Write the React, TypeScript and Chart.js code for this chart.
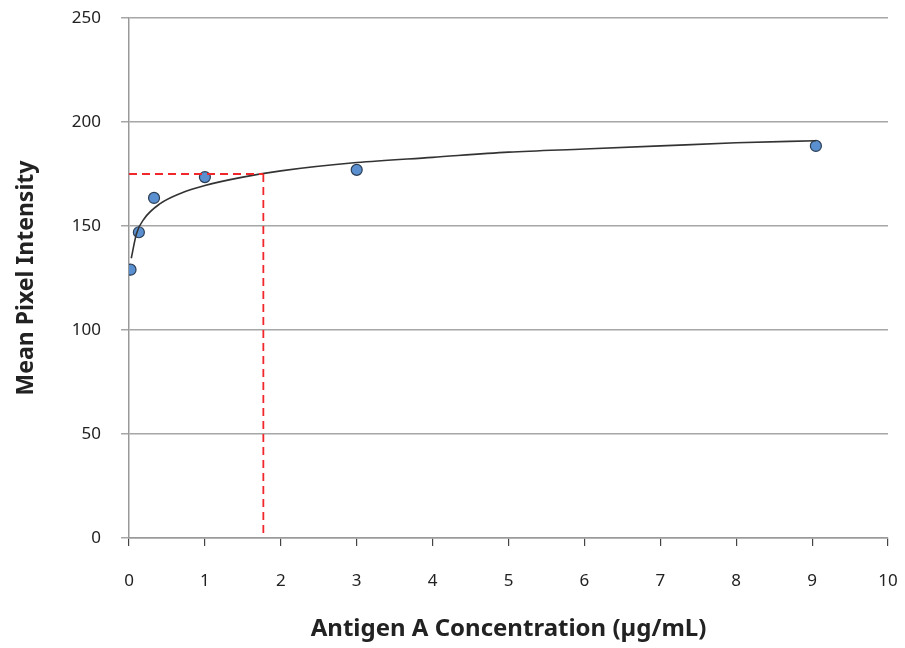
import React, { useEffect, useRef } from "react";
import { Chart, registerables } from "chart.js";

Chart.register(...registerables);

// Measured data points
const concX = [0.02, 0.13, 0.33, 1.0, 3.0, 9.05];
const intensityY = [129, 147, 163.5, 173.5, 177, 188.5];

// Fitted trend curve
const curveX = [0.03, 0.1, 0.2, 0.4, 0.7, 1.0, 1.5, 2.0, 3.0, 4.0, 5.0, 6.0, 7.0, 8.0, 9.05];
const curveY = [134.5, 146.5, 153.5, 160.5, 166, 169.5, 173.5, 176.5, 180.5, 183, 185.5, 187, 188.5, 190, 191];

// Read-off reference (red dashed)
const refX = 1.77;
const refY = 175;

const xTitle = "Antigen A Concentration (µg/mL)";
const yTitle = "Mean Pixel Intensity";

const FONT = "'Noto Sans', sans-serif";

export default function App() {
  const ref = useRef<HTMLCanvasElement | null>(null);
  useEffect(() => {
    document.body.style.margin = "0";
    const ctx = ref.current!;
    const chart = new Chart(ctx, {
      type: "scatter",
      data: {
        datasets: [
          {
            data: [
              { x: 0, y: refY },
              { x: refX, y: refY },
            ],
            showLine: true,
            borderColor: "#f0282c",
            borderWidth: 1.8,
            borderDash: [8, 5],
            pointRadius: 0,
          },
          {
            data: [
              { x: refX, y: refY },
              { x: refX, y: 0 },
            ],
            showLine: true,
            borderColor: "#f0282c",
            borderWidth: 1.8,
            borderDash: [8, 5],
            pointRadius: 0,
          },
          {
            data: curveX.map((x, i) => ({ x, y: curveY[i] })),
            showLine: true,
            borderColor: "#333333",
            borderWidth: 1.6,
            pointRadius: 0,
            cubicInterpolationMode: "monotone",
          },
          {
            data: concX.map((x, i) => ({ x, y: intensityY[i] })),
            showLine: false,
            backgroundColor: "#5a90d0",
            borderColor: "#2c3e55",
            borderWidth: 1.2,
            pointRadius: 5.5,
          },
        ],
      },
      options: {
        responsive: false,
        animation: false,
        layout: { padding: { top: 18, right: 17, left: 0, bottom: 0 } },
        plugins: { legend: { display: false }, tooltip: { enabled: false } },
        scales: {
          x: {
            type: "linear",
            min: 0,
            max: 10,
            afterFit: (s: any) => {
              s.height = 110;
              s.paddingLeft = 0;
              s.paddingRight = 0;
            },
            ticks: {
              stepSize: 1,
              padding: 25,
              color: "#222",
              font: { family: FONT, size: 17 },
            },
            grid: {
              drawOnChartArea: false,
              drawTicks: true,
              tickLength: 8,
              color: "#444",
              lineWidth: 1.2,
            },
            border: { display: true, color: "#999", width: 1.5 },
            title: {
              display: true,
              text: xTitle,
              color: "#222",
              font: { family: FONT, size: 24, weight: "bold" },
              padding: { top: 11 },
            },
          },
          y: {
            min: 0,
            max: 250,
            afterFit: (s: any) => {
              s.width = 129;
              s.paddingTop = 0;
              s.paddingBottom = 0;
            },
            ticks: {
              stepSize: 50,
              padding: 20,
              color: "#222",
              font: { family: FONT, size: 17 },
            },
            grid: {
              color: "#a6a6a6",
              lineWidth: 1.5,
              tickLength: 8,
            },
            border: { display: true, color: "#999", width: 1.5 },
            title: {
              display: true,
              text: yTitle,
              color: "#222",
              font: { family: FONT, size: 23, weight: "bold" },
              padding: { top: 13, bottom: 22 },
            },
          },
        },
      },
    });
    return () => chart.destroy();
  }, []);
  return (
    <div style={{ width: 905, height: 648 }}>
      <canvas ref={ref} width={905} height={648} />
    </div>
  );
}
